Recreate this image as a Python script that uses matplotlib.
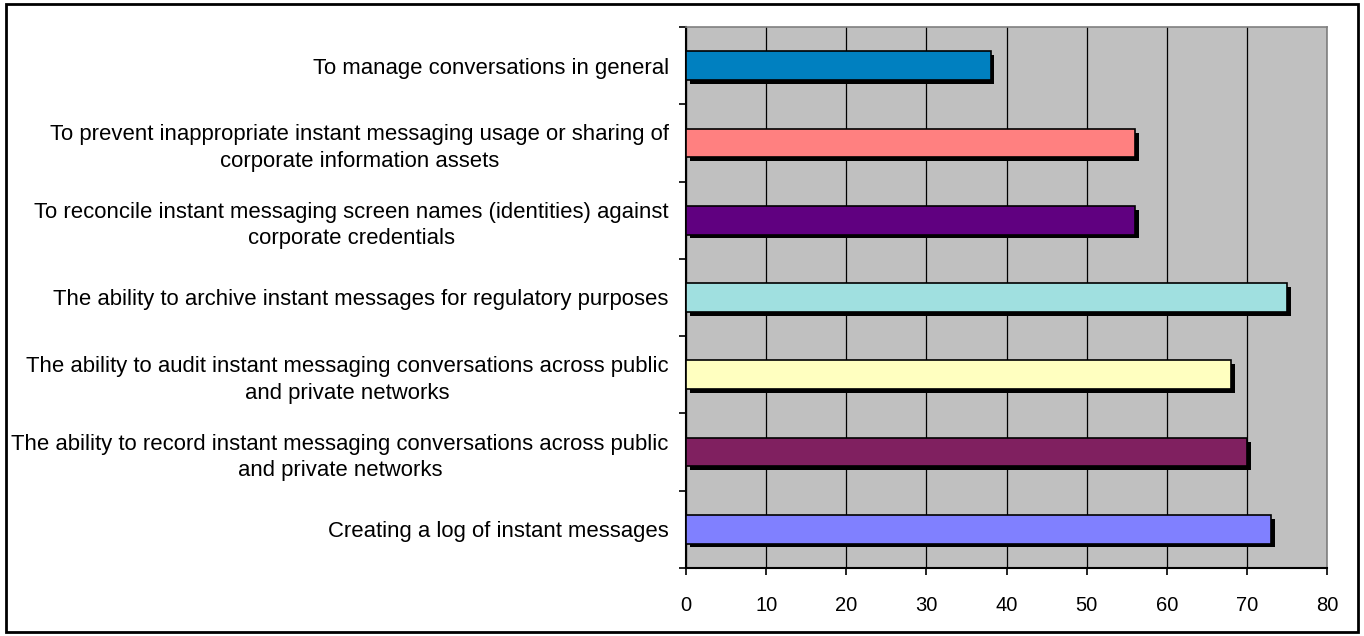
import matplotlib.pyplot as plt
import matplotlib.patheffects as pe
from matplotlib.patches import Rectangle
import numpy as np

plt.rcParams['font.family'] = ['Liberation Sans', 'DejaVu Sans']

# categories listed bottom to top
labels = [
    "Creating a log of instant messages",
    "The ability to record instant messaging conversations across public\nand private networks",
    "The ability to audit instant messaging conversations across public\nand private networks",
    "The ability to archive instant messages for regulatory purposes",
    "To reconcile instant messaging screen names (identities) against\ncorporate credentials",
    "To prevent inappropriate instant messaging usage or sharing of\ncorporate information assets",
    "To manage conversations in general",
]
values = [73, 70, 68, 75, 56, 56, 38]
colors = ["#8080FF", "#802060", "#FFFFC0", "#A0E0E0", "#600080", "#FF8080", "#0080C0"]
xticks = [0, 10, 20, 30, 40, 50, 60, 70, 80]

fig = plt.figure(figsize=(13.64, 6.36), dpi=100)
ax = fig.add_axes([0.503, 0.107, 0.470, 0.8505])

# outer chart border
fig.patches.append(Rectangle((0.0045, 0.006), 0.991, 0.988, transform=fig.transFigure,
                             fill=False, edgecolor='black', linewidth=2))

ax.set_facecolor('#C0C0C0')
y = np.arange(len(values))
bars = ax.barh(y, values, height=0.37, color=colors, edgecolor='black', linewidth=1.2, zorder=3)
for b in bars:
    b.set_path_effects([pe.SimplePatchShadow(offset=(2.8, -2.8), shadow_rgbFace='black', alpha=1.0),
                        pe.Normal()])

ax.set_xlim(0, 80)
ax.set_ylim(-0.5, len(values) - 0.5)
ax.set_xticks(xticks)
ax.xaxis.grid(True, color='black', linewidth=0.9, zorder=1)
ax.set_axisbelow(True)

# category ticks sit on the boundaries between bars
ax.set_yticks(np.arange(-0.5, len(values), 1.0))
ax.set_yticklabels([])
ax.set_yticks(y, minor=True)
ax.set_yticklabels(labels, minor=True, fontsize=15.9, ha='right', multialignment='center',
                   linespacing=1.36)
ax.tick_params(axis='y', which='minor', length=0, pad=12.5)
ax.tick_params(axis='y', which='major', length=5, width=1.2, direction='out')
ax.tick_params(axis='x', length=5, width=1.2, direction='out', labelsize=14.5, pad=15)

for side in ('left', 'bottom'):
    ax.spines[side].set_color('black')
    ax.spines[side].set_linewidth(1.5)
for side in ('top', 'right'):
    ax.spines[side].set_color('#808080')
    ax.spines[side].set_linewidth(1.2)

fig.savefig('out.png', dpi=100)
